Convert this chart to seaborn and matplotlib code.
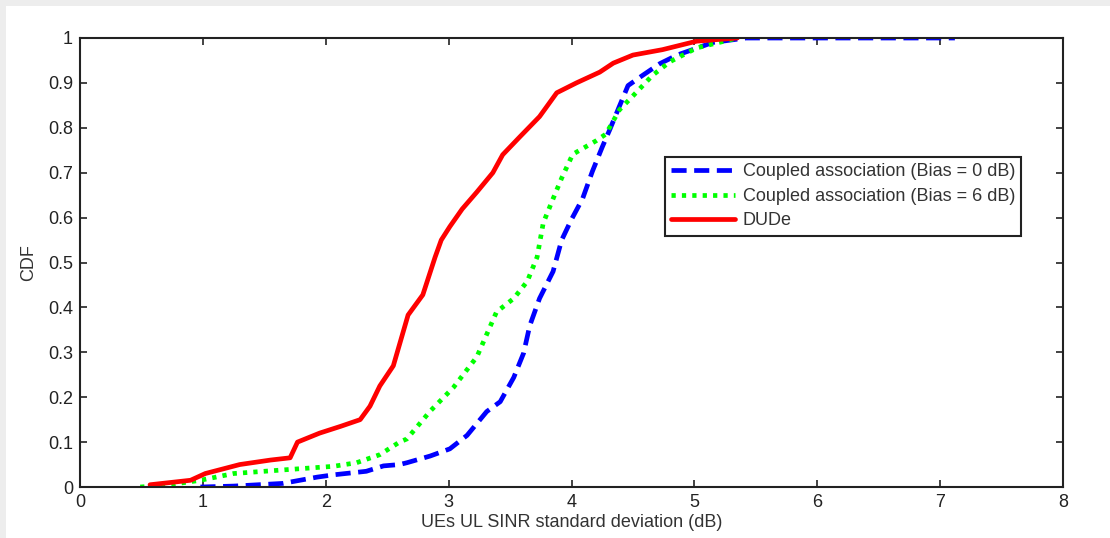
import numpy as np
import pandas as pd
import matplotlib
matplotlib.use("Agg")
import matplotlib.pyplot as plt
from matplotlib.patches import Rectangle
import seaborn as sns

# CDF curves
x_bias0 = [0.98, 1.25, 1.65, 1.93, 2.06, 2.33, 2.47, 2.6, 2.66, 2.85, 3.01, 3.15, 3.31, 3.42,
           3.53, 3.61, 3.66, 3.74, 3.85, 3.92, 4.0, 4.09, 4.17, 4.25, 4.31, 4.39, 4.46,
           4.58, 4.72, 4.86, 5.15, 5.42, 6.0, 7.12]
y_bias0 = [0.0, 0.002, 0.008, 0.022, 0.027, 0.035, 0.047, 0.05, 0.054, 0.069, 0.085, 0.115,
           0.168, 0.19, 0.244, 0.298, 0.359, 0.42, 0.48, 0.55, 0.596, 0.642, 0.703, 0.757,
           0.795, 0.848, 0.894, 0.917, 0.943, 0.962, 0.99, 1.0, 1.0, 1.0]

x_bias6 = [0.49, 0.7, 0.98, 1.25, 1.65, 2.06, 2.25, 2.44, 2.6, 2.66, 2.85, 3.04, 3.23, 3.39,
           3.53, 3.64, 3.72, 3.77, 3.85, 3.92, 4.01, 4.2, 4.28, 4.39, 4.5, 4.66, 4.8,
           5.02, 5.35]
y_bias6 = [0.0, 0.004, 0.015, 0.03, 0.038, 0.046, 0.054, 0.072, 0.1, 0.107, 0.169, 0.222,
           0.29, 0.39, 0.42, 0.458, 0.512, 0.588, 0.642, 0.688, 0.741, 0.771, 0.786, 0.84,
           0.871, 0.917, 0.947, 0.978, 1.0]

x_dude = [0.57, 0.9, 1.02, 1.3, 1.55, 1.71, 1.77, 1.95, 2.12, 2.28, 2.36, 2.44, 2.55, 2.67,
          2.79, 2.89, 2.94, 3.01, 3.11, 3.23, 3.36, 3.44, 3.58, 3.74, 3.88, 4.04, 4.23,
          4.34, 4.5, 4.74, 5.02, 5.35]
y_dude = [0.005, 0.015, 0.03, 0.05, 0.06, 0.065, 0.1, 0.12, 0.135, 0.15, 0.18, 0.225, 0.27,
          0.383, 0.428, 0.512, 0.55, 0.58, 0.619, 0.657, 0.70, 0.74, 0.78, 0.825, 0.878,
          0.90, 0.924, 0.944, 0.962, 0.974, 0.993, 1.0]

labels = ["Coupled association (Bias = 0 dB)",
          "Coupled association (Bias = 6 dB)",
          "DUDe"]
colors = ["#0000ff", "#00ff00", "#ff0000"]
x_ticks = [0, 1, 2, 3, 4, 5, 6, 7, 8]
y_ticks = [0, 0.1, 0.2, 0.3, 0.4, 0.5, 0.6, 0.7, 0.8, 0.9, 1]
y_tick_labels = ["0", "0.1", "0.2", "0.3", "0.4", "0.5", "0.6", "0.7", "0.8", "0.9", "1"]

sns.set_style("ticks")
plt.rcParams['font.family'] = ['Liberation Sans', 'DejaVu Sans']

fig = plt.figure(figsize=(11.1, 5.38), dpi=100, facecolor="white")
# light grey screenshot frame along the top and left edges
fig.add_artist(Rectangle((0, 1 - 6 / 538), 1, 6 / 538, transform=fig.transFigure,
                         facecolor="#ededed", edgecolor="none"))
fig.add_artist(Rectangle((0, 0), 6 / 1110, 1, transform=fig.transFigure,
                         facecolor="#ededed", edgecolor="none"))
ax = fig.add_axes([80 / 1110, 51 / 538, 983 / 1110, 449 / 538])

curves = [(x_bias0, y_bias0), (x_bias6, y_bias6), (x_dude, y_dude)]
styles = [(0, (3.2, 1.6)), (0, (0.9, 1.3)), "-"]
for (xs, ys), lab, col, ls in zip(curves, labels, colors, styles):
    df = pd.DataFrame({"x": xs, "y": ys})
    sns.lineplot(data=df, x="x", y="y", ax=ax, color=col, linewidth=3.4,
                 linestyle=ls, label=lab, sort=False, estimator=None)

ax.set_xlim(0, 8)
ax.set_ylim(0, 1)
ax.set_xticks(x_ticks)
ax.set_xticklabels([str(t) for t in x_ticks])
ax.set_yticks(y_ticks)
ax.set_yticklabels(y_tick_labels)
ax.tick_params(direction="in", length=5, width=1.2, top=True, right=True,
               labelsize=13, colors="#222222", pad=5)
for s in ax.spines.values():
    s.set_visible(True)
    s.set_linewidth(1.5)
    s.set_color("#222222")
ax.set_xlabel("UEs UL SINR standard deviation (dB)", fontsize=13, color="#333333", labelpad=2)
ax.set_ylabel("CDF", fontsize=13, color="#333333", labelpad=8)

leg = ax.legend(loc="upper left", bbox_to_anchor=(585 / 983, 330 / 449), fontsize=13,
                frameon=True, fancybox=False, borderpad=0.35, handlelength=3.5,
                handletextpad=0.45, labelspacing=0.42, borderaxespad=0)
leg.get_frame().set_edgecolor("#222222")
leg.get_frame().set_linewidth(1.5)
leg.get_frame().set_alpha(1)
for t in leg.get_texts():
    t.set_color("#333333")

fig.savefig("out.png", dpi=100, facecolor=fig.get_facecolor())
